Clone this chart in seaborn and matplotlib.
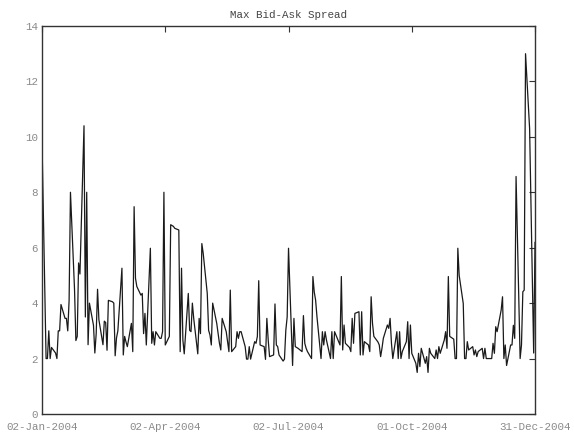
import numpy as np
import pandas as pd
import matplotlib
matplotlib.use("Agg")
import matplotlib.pyplot as plt
import seaborn as sns

# Daily max bid-ask spread, 2004 (weekdays), month by month
jan = [9.8, 2.0, 2.0, 3.0, 2.0, 2.4, 2.2, 2.0, 3.0, 3.0, 3.95, 3.45, 3.45, 3.0,
       4.1, 8.0, 4.5, 2.65, 2.8, 5.45, 5.05]
feb = [10.4, 3.5, 8.0, 2.5, 4.0, 3.2, 2.2, 2.9, 4.5, 3.4, 2.5, 3.35, 3.3, 2.3,
       4.1, 4.05, 4.0, 2.1, 2.75, 3.0]
mar = [5.26, 2.13, 2.8, 2.6, 2.43, 3.27, 2.25, 7.48, 4.9, 4.6, 4.29, 4.35, 2.9,
       3.63, 2.49, 5.98, 2.55, 2.97, 2.49, 2.97, 2.73, 2.73, 2.97]
apr = [8.0, 2.49, 2.8, 6.83, 6.8, 6.77, 6.7, 6.64, 2.25, 5.26, 2.67, 2.17, 4.35,
       3.02, 2.97, 4.0, 3.45, 2.17, 3.45, 2.9, 6.15, 5.8]
may = [4.35, 3.02, 2.85, 2.49, 4.0, 3.27, 2.9, 2.55, 2.31, 3.45, 2.97, 2.6, 2.25,
       4.47, 2.25, 2.43, 2.97, 2.73, 2.97, 2.97, 2.43]
jun = [1.98, 1.98, 2.43, 1.98, 2.61, 2.55, 2.8, 4.81, 2.49, 2.43, 1.97, 3.45,
       2.67, 2.07, 2.13, 3.97, 2.49, 2.43, 2.13, 1.91, 1.98, 3.02]
jul = [3.5, 5.98, 1.75, 3.45, 2.43, 2.4, 2.37, 2.25, 3.55, 2.55, 2.37, 2.25, 2.0,
       4.96, 4.4, 4.11, 3.51, 2.0, 2.97, 2.49, 2.97, 2.67]
aug = [2.0, 2.97, 2.0, 2.97, 2.85, 2.49, 4.96, 2.31, 3.21, 2.55, 2.4, 2.25, 3.45,
       2.55, 3.63, 3.69, 2.13, 3.69, 2.13, 2.61, 2.49, 2.25]
sep = [4.23, 3.27, 2.8, 2.6, 2.49, 2.07, 2.37, 2.73, 3.21, 3.09, 3.45, 2.55, 2.0,
       2.97, 2.0, 2.97, 2.0, 2.25, 2.61, 3.33, 2.0, 3.21]
oct_ = [2.19, 1.83, 1.5, 2.19, 1.71, 2.37, 1.83, 2.07, 1.5, 2.37, 2.19, 2.0, 2.31,
        2.0, 2.43, 2.19, 2.67, 2.97, 2.37, 4.96, 2.8]
nov = [2.7, 2.0, 2.0, 5.98, 5.0, 3.99, 2.0, 2.0, 2.61, 2.31, 2.43, 2.13, 2.31,
       2.07, 2.25, 2.37, 2.0, 2.37, 2.0, 2.0, 2.0, 2.55]
dec = [2.19, 3.15, 2.97, 3.75, 4.23, 2.0, 2.49, 1.75, 2.49, 2.49, 3.2, 2.73,
       8.57, 2.0, 2.49, 4.41, 4.47, 13.0, 10.3, 7.6, 4.9, 2.2, 6.2]

start_date = "2004-01-02"
end_date = "2004-12-31"
tick_dates = ["2004-01-02", "2004-04-02", "2004-07-02", "2004-10-01", "2004-12-31"]
tick_labels = ["02-Jan-2004", "02-Apr-2004", "02-Jul-2004", "01-Oct-2004", "31-Dec-2004"]
y_ticks = [0, 2, 4, 6, 8, 10, 12, 14]
title = "Max Bid-Ask Spread"

values = jan + feb + mar + apr + may + jun + jul + aug + sep + oct_ + nov + dec
dates = pd.bdate_range(start_date, end_date)
n = min(len(values), len(dates))
df = pd.DataFrame({"date": dates[:n], "spread": values[:n]})

sns.set_style("white")
plt.rcParams["font.family"] = ["Liberation Mono", "DejaVu Sans Mono"]

fig = plt.figure(figsize=(5.74, 4.32), dpi=100)
ax = fig.add_axes([0.0732, 0.0417, 0.8589, 0.8981])

sns.lineplot(data=df, x="date", y="spread", ax=ax, color="#1a1a1a",
             linewidth=0.9, estimator=None)

ax.set_xlim(pd.Timestamp(start_date), pd.Timestamp(end_date))
ax.set_ylim(0, 14)
ax.set_xticks([pd.Timestamp(d) for d in tick_dates])
ax.set_xticklabels(tick_labels)
ax.set_yticks(y_ticks)
ax.set_yticklabels([str(v) for v in y_ticks])
ax.set_xlabel("")
ax.set_ylabel("")
ax.set_title(title, fontsize=7.8, color="#444444", pad=6)

ax.tick_params(axis="both", direction="in", length=4, width=0.8,
               colors="#333333", labelcolor="#8a8a8a", labelsize=7.8,
               top=True, right=True)
ax.tick_params(axis="x", pad=6)
ax.tick_params(axis="y", pad=3)
for s in ax.spines.values():
    s.set_visible(True)
    s.set_color("#333333")
    s.set_linewidth(1.0)
ax.grid(False)

fig.savefig("out.png", dpi=100)
